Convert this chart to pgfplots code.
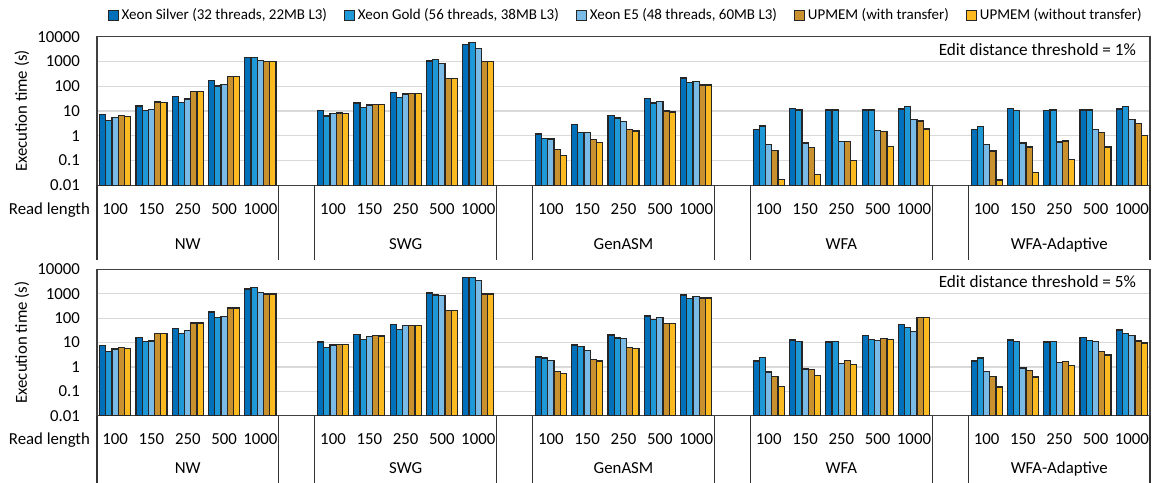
\documentclass[border=0pt]{standalone}
\usepackage{fontspec}
\setmainfont{Carlito}
\usepackage{pgfplots}
\pgfplotsset{compat=1.18}
\usepackage{pgfplotstable}

\definecolor{cS}{RGB}{0,112,186}
\definecolor{cG}{RGB}{30,152,214}
\definecolor{cE}{RGB}{122,186,230}
\definecolor{cW}{RGB}{200,145,45}
\definecolor{cO}{RGB}{250,186,32}
\definecolor{edge}{RGB}{38,38,38}

% top: edit distance threshold = 1%
\pgfplotstableread{
x s g e w o
0 7.4 4.2 5.6 6.5 5.9
1 16 10.4 11.4 23 22.5
2 39 22.5 30.6 62 62
3 174 102 116 253 245
4 1473 1430 1115 985 985
6 10.4 6.3 7.8 8.3 7.8
7 21 13.7 17.5 18 18
8 55 35 49 50 50
9 1050 1185 818 203 203
10 4790 5940 3300 985 985
12 1.18 0.79 0.74 0.275 0.163
13 2.8 1.34 1.34 0.70 0.54
14 6.7 5.2 3.7 1.82 1.56
15 32.6 21 23.9 10 9.1
16 216 140 153 113 113
18 1.77 2.5 0.45 0.25 0.0175
19 12.8 11 0.51 0.34 0.027
20 11 11 0.58 0.6 0.099
21 11 11 1.66 1.47 0.36
22 12.1 15.5 4.6 3.96 1.88
24 1.77 2.4 0.45 0.243 0.0164
25 12.8 10.7 0.51 0.35 0.032
26 10.4 11 0.56 0.62 0.109
27 11 11 1.77 1.38 0.35
28 12.1 15.5 4.5 3.2 1.04
}\tabA

% bottom: edit distance threshold = 5%
\pgfplotstableread{
x s g e w o
0 7.6 4.2 5.4 6.3 5.9
1 16.2 10.8 11.5 23 23
2 38 23 30.5 63 63
3 177 107 118 259 259
4 1550 1820 1100 968 968
6 10.5 6.3 7.9 8.6 8.1
7 21.5 13.4 17.8 19 18.5
8 55 34.5 50 50 50
9 1065 880 827 201 201
10 4530 4530 3410 968 968
12 2.54 2.3 1.85 0.66 0.54
13 7.9 6.9 4.6 1.97 1.74
14 20.2 15.2 14.3 6.1 5.9
15 122 89 104 61 61
16 880 644 753 664 664
18 1.74 2.38 0.62 0.40 0.155
19 12.6 10.8 0.82 0.77 0.46
20 10.5 10.8 1.35 1.8 1.23
21 19.6 13 12.2 14.3 13
22 53.7 41.7 28.6 107 107
24 1.74 2.3 0.64 0.40 0.15
25 12.6 10.8 0.9 0.72 0.385
26 10.5 10.8 1.53 1.63 1.16
27 15.7 11.9 10.8 4.2 3.06
28 32.4 23.7 19 11.5 9.5
}\tabB

\tikzset{grpsep/.style={draw=black!80, line width=0.6pt},
  lbl/.style={font=\fontsize{8.4}{10}\selectfont}}

\begin{document}
\begin{tikzpicture}
\path[use as bounding box] (0,0) rectangle (577pt,-241pt);

% ---------- top panel ----------
\begin{axis}[at={(48.5pt,-92.65pt)}, anchor=south west,
    scale only axis, width=526.5pt, height=74.3pt,
    ymode=log, ymin=0.01, ymax=10000, log origin=infty,
    xmin=-0.5, xmax=28.5,
    ybar=0pt, bar width=3.1pt,
    ytick={0.01,0.1,1,10,100,1000,10000},
    yticklabels={0.01,0.1,1,10,100,1000,10000},
    xtick={0,1,2,3,4,6,7,8,9,10,12,13,14,15,16,18,19,20,21,22,24,25,26,27,28},
    xticklabels={100,150,250,500,1000,100,150,250,500,1000,100,150,250,500,1000,100,150,250,500,1000,100,150,250,500,1000},
    major tick length=0pt, minor tick length=0pt,
    ymajorgrids, grid style={draw=black!15, line width=0.6pt},
    axis line style={draw=black!75, line width=0.7pt},
    tick label style={font=\fontsize{8.4}{10}\selectfont},
    yticklabel style={xshift=-5pt},
    clip=false,
    legend image code/.code={\draw[#1, line width=0.5pt] (0pt,-2.5pt) rectangle (5pt,2.5pt);},
  xticklabel style={anchor=base, yshift=-14.7pt},
  legend columns=5, legend cell align=left,
  legend style={draw=none, fill=none, inner sep=0pt, at={(0.9934,1.141)}, anchor=east,
    font=\fontsize{7.5}{9}\selectfont,
    nodes={inner sep=0.5pt},
    /tikz/every odd column/.append style={column sep=1pt},
    /tikz/every even column/.append style={column sep=8pt}},
]
\addplot[fill=cS, draw=edge, line width=0.6pt] table[x=x,y=s]{\tabA};
\addplot[fill=cG, draw=edge, line width=0.6pt] table[x=x,y=g]{\tabA};
\addplot[fill=cE, draw=edge, line width=0.6pt] table[x=x,y=e]{\tabA};
\addplot[fill=cW, draw=edge, line width=0.6pt] table[x=x,y=w]{\tabA};
\addplot[fill=cO, draw=edge, line width=0.6pt] table[x=x,y=o]{\tabA};
\legend{Xeon Silver (32 threads{,} 22MB L3),Xeon Gold (56 threads{,} 38MB L3),Xeon E5 (48 threads{,} 60MB L3),UPMEM (with transfer),UPMEM (without transfer)}
\pgfplotsinvokeforeach{-0.5,4.5,5.5,10.5,11.5,16.5,17.5,22.5,23.5,28.5}{
  \draw[grpsep] (axis cs:#1,0.01) -- ++(0pt,-37.5pt);}
\node[lbl, anchor=base, yshift=-32.2pt] at (axis cs:2,0.01) {NW};
\node[lbl, anchor=base, yshift=-32.2pt] at (axis cs:8,0.01) {SWG};
\node[lbl, anchor=base, yshift=-32.2pt] at (axis cs:14,0.01) {GenASM};
\node[lbl, anchor=base, yshift=-32.2pt] at (axis cs:20,0.01) {WFA};
\node[lbl, anchor=base, yshift=-32.2pt] at (axis cs:26,0.01) {WFA-Adaptive};
\node[lbl, anchor=base east, yshift=-14.7pt] at (rel axis cs:0,0) {Read length};
\node[anchor=east, font=\fontsize{8.6}{10}\selectfont, xshift=-3.5pt, yshift=-6.2pt] at (rel axis cs:1,1) {Edit distance threshold = 1\%};
\node[lbl, rotate=90, anchor=center] at ([xshift=-37.5pt]rel axis cs:0,0.5) {Execution time (s)};
\end{axis}

% ---------- bottom panel ----------
\begin{axis}[at={(48.5pt,-207.85pt)}, anchor=south west,
    scale only axis, width=526.5pt, height=73.2pt,
    ymode=log, ymin=0.01, ymax=10000, log origin=infty,
    xmin=-0.5, xmax=28.5,
    ybar=0pt, bar width=3.1pt,
    ytick={0.01,0.1,1,10,100,1000,10000},
    yticklabels={0.01,0.1,1,10,100,1000,10000},
    xtick={0,1,2,3,4,6,7,8,9,10,12,13,14,15,16,18,19,20,21,22,24,25,26,27,28},
    xticklabels={100,150,250,500,1000,100,150,250,500,1000,100,150,250,500,1000,100,150,250,500,1000,100,150,250,500,1000},
    major tick length=0pt, minor tick length=0pt,
    ymajorgrids, grid style={draw=black!15, line width=0.6pt},
    axis line style={draw=black!75, line width=0.7pt},
    tick label style={font=\fontsize{8.4}{10}\selectfont},
    yticklabel style={xshift=-5pt},
    clip=false,
  xticklabel style={anchor=base, yshift=-14.3pt},
]
\addplot[fill=cS, draw=edge, line width=0.6pt] table[x=x,y=s]{\tabB};
\addplot[fill=cG, draw=edge, line width=0.6pt] table[x=x,y=g]{\tabB};
\addplot[fill=cE, draw=edge, line width=0.6pt] table[x=x,y=e]{\tabB};
\addplot[fill=cW, draw=edge, line width=0.6pt] table[x=x,y=w]{\tabB};
\addplot[fill=cO, draw=edge, line width=0.6pt] table[x=x,y=o]{\tabB};
\pgfplotsinvokeforeach{-0.5,4.5,5.5,10.5,11.5,16.5,17.5,22.5,23.5,28.5}{
  \draw[grpsep] (axis cs:#1,0.01) -- ++(0pt,-40pt);}
\node[lbl, anchor=base, yshift=-29pt] at (axis cs:2,0.01) {NW};
\node[lbl, anchor=base, yshift=-29pt] at (axis cs:8,0.01) {SWG};
\node[lbl, anchor=base, yshift=-29pt] at (axis cs:14,0.01) {GenASM};
\node[lbl, anchor=base, yshift=-29pt] at (axis cs:20,0.01) {WFA};
\node[lbl, anchor=base, yshift=-29pt] at (axis cs:26,0.01) {WFA-Adaptive};
\node[lbl, anchor=base east, yshift=-14.3pt] at (rel axis cs:0,0) {Read length};
\node[anchor=east, font=\fontsize{8.6}{10}\selectfont, xshift=-3.5pt, yshift=-6.2pt] at (rel axis cs:1,1) {Edit distance threshold = 5\%};
\node[lbl, rotate=90, anchor=center] at ([xshift=-37.5pt]rel axis cs:0,0.5) {Execution time (s)};
\end{axis}
\end{tikzpicture}
\end{document}
